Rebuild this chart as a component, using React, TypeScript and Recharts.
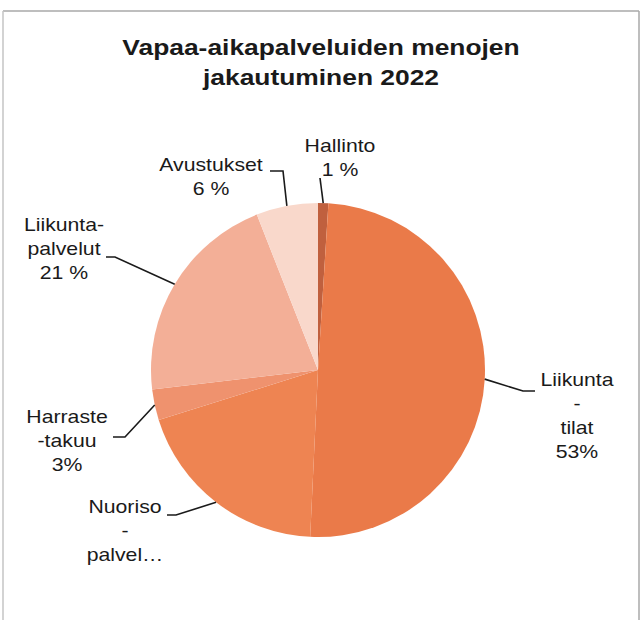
import React from "react";
import { PieChart, Pie, Cell } from "recharts";

// Vapaa-aikapalveluiden menojen jakautuminen 2022
const categories = [
  "Hallinto",
  "Liikuntatilat",
  "Nuorisopalvelut",
  "Harrastetakuu",
  "Liikuntapalvelut",
  "Avustukset",
];
// slice sizes as drawn in the picture (labels in the picture are rounded / truncated)
const shares = [1, 50, 19.5, 3, 21, 6];
const labelTexts = [
  ["Hallinto", "1 %"],
  ["Liikunta", "-", "tilat", "53%"],
  ["Nuoriso", "-", "palvel…"],
  ["Harraste", "-takuu", "3%"],
  ["Liikunta-", "palvelut", "21 %"],
  ["Avustukset", "6 %"],
];
const sliceColors = ["#C0603E", "#EA7A49", "#EE8452", "#EF926E", "#F3AF97", "#F9D8CB"];

// label placement relative to pie centre (Excel style elbow leaders)
const labelLayout = [
  { tx: 22, ty: -224, elbow: [2, -192], end: null as number | null },
  { tx: 259, ty: 10, elbow: [205, 21], end: 217 },
  { tx: -193, ty: 137, elbow: [-142, 145], end: -151 },
  { tx: -251, ty: 47, elbow: [-193, 67], end: -205 },
  { tx: -254, ty: -145, elbow: [-203, -113], end: -212 },
  { tx: -107, ty: -205, elbow: [-35, -199], end: -48 },
];

const data = categories.map((c, i) => ({ name: c, value: shares[i] }));

const RAD = Math.PI / 180;
const LINE_H = 24;
const FONT = "'Liberation Sans', Arial, sans-serif";

const renderLabel = (props: any) => {
  const { cx, cy, midAngle, outerRadius, index } = props;
  const lay = labelLayout[index];
  const sx = cx + outerRadius * Math.cos(-midAngle * RAD);
  const sy = cy + outerRadius * Math.sin(-midAngle * RAD);
  const ex = cx + lay.elbow[0];
  const ey = cy + lay.elbow[1];
  let pts = `${sx},${sy} ${ex},${ey}`;
  if (lay.end !== null) pts += ` ${cx + lay.end},${ey}`;
  const tx = cx + lay.tx;
  const ty = cy + lay.ty;
  return (
    <g key={`lbl-${index}`}>
      <polyline points={pts} fill="none" stroke="#1a1a1a" strokeWidth={1.6} />
      <text
        transform={`translate(${tx},${ty}) scale(1.18,1)`}
        textAnchor="middle"
        fontFamily={FONT}
        fontSize={18}
        fill="#1a1a1a"
      >
        {labelTexts[index].map((t, j) => (
          <tspan key={j} x={0} y={j * LINE_H} dominantBaseline="central">
            {t}
          </tspan>
        ))}
      </text>
    </g>
  );
};

export default function App() {
  return (
    <div style={{ position: "absolute", left: 0, top: 0, width: 641, height: 620, background: "#fff" }}>
      <svg width={641} height={620} style={{ position: "absolute", left: 0, top: 0 }}>
        <line x1={3} y1={11} x2={639} y2={11} stroke="#a8a8a8" strokeWidth={1.5} />
        <line x1={3} y1={11} x2={3} y2={620} stroke="#c4c4c4" strokeWidth={1.5} />
        <line x1={639} y1={11} x2={639} y2={620} stroke="#a8a8a8" strokeWidth={1.5} />
        <text
          transform="translate(321,55) scale(1.2,1)"
          textAnchor="middle"
          fontFamily={FONT}
          fontWeight="bold"
          fontSize={22}
          fill="#1a1a1a"
        >
          Vapaa-aikapalveluiden menojen
        </text>
        <text
          transform="translate(321,85) scale(1.2,1)"
          textAnchor="middle"
          fontFamily={FONT}
          fontWeight="bold"
          fontSize={22}
          fill="#1a1a1a"
        >
          jakautuminen 2022
        </text>
      </svg>
      <div style={{ position: "absolute", left: 0, top: 0 }}>
        <PieChart width={641} height={620} margin={{ top: 0, right: 0, bottom: 0, left: 0 }}>
          <Pie
            data={data}
            dataKey="value"
            nameKey="name"
            cx={318}
            cy={370}
            outerRadius={167}
            startAngle={90}
            endAngle={-270}
            stroke="none"
            label={renderLabel}
            labelLine={false}
            isAnimationActive={false}
          >
            {data.map((d, i) => (
              <Cell key={d.name} fill={sliceColors[i]} />
            ))}
          </Pie>
        </PieChart>
      </div>
    </div>
  );
}
